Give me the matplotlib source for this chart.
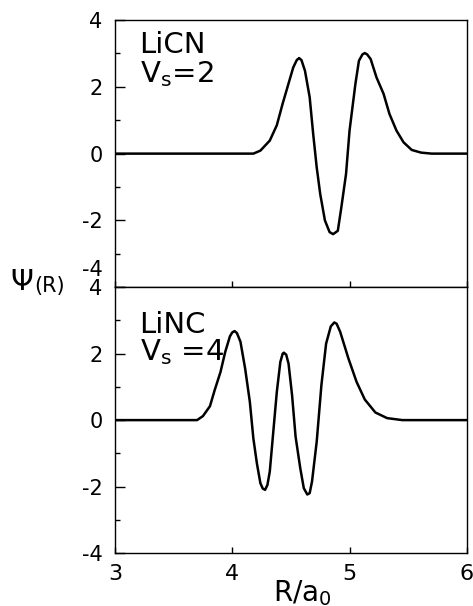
import matplotlib
matplotlib.use("Agg")
import matplotlib.pyplot as plt
import matplotlib.transforms as mtransforms

# LiCN, V_s = 2
r_licn = [3.0, 4.0, 4.18, 4.24, 4.32, 4.38, 4.43, 4.48, 4.52, 4.55,
          4.57, 4.59, 4.62, 4.66, 4.69, 4.72, 4.75, 4.79, 4.83, 4.86, 4.90,
          4.93, 4.97, 5.00, 5.05, 5.08, 5.11, 5.13, 5.15, 5.18, 5.23, 5.29,
          5.34, 5.40, 5.46, 5.53, 5.61, 5.70, 6.0]
psi_licn = [0.0, 0.0, 0.0, 0.09, 0.39, 0.85, 1.5, 2.1, 2.58, 2.80,
            2.86, 2.80, 2.48, 1.69, 0.59, -0.41, -1.21, -2.0, -2.35, -2.41, -2.31,
            -1.61, -0.61, 0.69, 2.09, 2.78, 2.97, 3.01, 2.97, 2.83, 2.28, 1.79,
            1.19, 0.69, 0.34, 0.11, 0.03, 0.0, 0.0]

# LiNC, V_s = 4
r_linc = [3.0, 3.6, 3.70, 3.75, 3.81, 3.85, 3.90, 3.94, 3.98, 4.00, 4.02,
          4.04, 4.07, 4.11, 4.15, 4.18, 4.21, 4.24, 4.26, 4.28, 4.30, 4.32,
          4.35, 4.38, 4.41, 4.43, 4.44, 4.46, 4.48, 4.51, 4.54, 4.58, 4.61,
          4.64, 4.66, 4.68, 4.72, 4.76, 4.80, 4.84, 4.87, 4.89, 4.92, 4.99,
          5.06, 5.13, 5.22, 5.32, 5.45, 6.0]
psi_linc = [0.0, 0.0, 0.0, 0.12, 0.42, 0.9, 1.45, 2.05, 2.52, 2.64, 2.68,
            2.62, 2.36, 1.55, 0.55, -0.55, -1.3, -1.9, -2.06, -2.1, -1.95, -1.55,
            -0.35, 0.85, 1.75, 2.0, 2.03, 1.97, 1.7, 0.75, -0.5, -1.45, -2.05,
            -2.24, -2.2, -1.85, -0.65, 1.05, 2.3, 2.82, 2.94, 2.9, 2.66, 1.86,
            1.15, 0.62, 0.23, 0.06, 0.0, 0.0]

x_ticks = [3, 4, 5, 6]
y_ticks = [-4, -2, 0, 2, 4]
y_labels = ["-4", "-2", "0", "2", "4"]

fig = plt.figure(figsize=(4.73, 6.06), dpi=100)
ax1 = fig.add_axes([0.243, 0.526, 0.744, 0.441])
ax2 = fig.add_axes([0.243, 0.0875, 0.744, 0.4385])

panels = [(ax1, r_licn, psi_licn, "LiCN", r"V$_\mathregular{s}$=2", 3.02, 2.13),
          (ax2, r_linc, psi_linc, "LiNC", r"V$_\mathregular{s}$ =4", 2.62, 1.8)]

for ax, r, psi, name, vs, y_name, y_vs in panels:
    ax.plot(r, psi, color="black", lw=1.8, solid_joinstyle="round")
    ax.set_xlim(3, 6)
    ax.set_ylim(-4, 4)
    ax.set_yticks(y_ticks)
    ax.set_yticklabels(y_labels)
    ax.set_yticks([-3, -1, 1, 3], minor=True)
    ax.set_xticks(x_ticks)
    ax.tick_params(axis="y", which="major", direction="in", length=7,
                   width=1, labelsize=15, pad=9)
    ax.tick_params(axis="y", which="minor", direction="in", length=3.5, width=1)
    ax.tick_params(axis="x", direction="in", length=4, width=1,
                   labelsize=16, pad=8)
    for s in ax.spines.values():
        s.set_linewidth(1.0)
    ax.text(3.21, y_name, name, fontsize=21, ha="left", va="baseline")
    ax.text(3.21, y_vs, vs, fontsize=21, ha="left", va="baseline")

ax1.tick_params(axis="x", labelbottom=False)
# lift the top panel's -4 so it sits just above the bottom panel's 4
lbl = ax1.get_yticklabels()[0]
lbl.set_va("bottom")
lbl.set_transform(lbl.get_transform() +
                  mtransforms.ScaledTranslation(0, 5 / 72, fig.dpi_scale_trans))

fig.text(10 / 473, 1 - 282 / 606, "Ψ", fontsize=21, ha="left", va="center")
fig.text(34 / 473, 1 - 292 / 606, "(R)", fontsize=15, ha="left", va="baseline")
fig.text(302 / 473, 1 - 601 / 606, r"R/a$_\mathregular{0}$", fontsize=20,
         ha="center", va="baseline")

fig.savefig("out.png", dpi=100)
plt.close(fig)
